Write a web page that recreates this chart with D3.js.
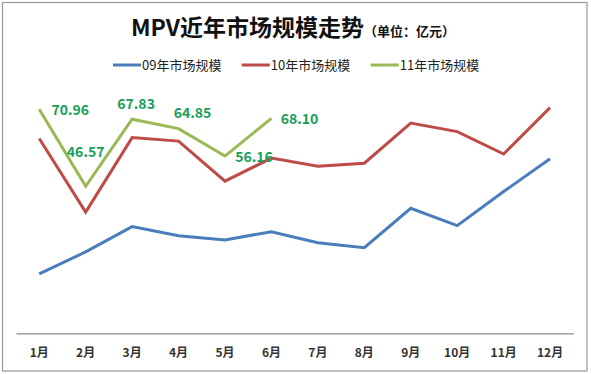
<!DOCTYPE html>
<html>
<head>
<meta charset="utf-8">
<script src="https://cdn.jsdelivr.net/npm/d3@7"></script>
<style>
  html, body { margin: 0; padding: 0; background: #fff; }
  svg { display: block; }
  text { font-family: "Noto Sans CJK SC", "Noto Sans", sans-serif; }
</style>
</head>
<body>
<script>
// ---- data ----
const months = ["1月","2月","3月","4月","5月","6月","7月","8月","9月","10月","11月","12月"];
const seriesNames = ["09年市场规模","10年市场规模","11年市场规模"];
const values09 = [18.8, 25.8, 33.8, 30.9, 29.6, 32.2, 28.7, 27.1, 39.6, 34.1, 44.9, 55.3];
const values10 = [61.7, 38.4, 62.0, 60.9, 48.2, 55.5, 52.9, 53.9, 66.6, 63.9, 56.8, 71.5];
const values11 = [70.96, 46.57, 67.83, 64.85, 56.16, 68.10];
const yDomain = [0, 80];

// ---- layout / style ----
const W = 591, H = 374;
const colors = ["#4A7EBB", "#BE4B48", "#98B954"];
const labelColor = "#17A05A";
const labelOffsets = [[31, 1], [0, -34], [4, -15], [14, -16], [29, 1], [28, 1]];

const svg = d3.select("body").append("svg").attr("width", W).attr("height", H);

// outer border
svg.append("rect").attr("x", 2.5).attr("y", 2.5).attr("width", 584.5).attr("height", 368.5)
  .attr("fill", "#fff").attr("stroke", "#9a9a9a").attr("stroke-width", 1.2);

// title
const title = svg.append("text").attr("x", 293).attr("y", 36).attr("text-anchor", "middle")
  .attr("font-weight", "bold").attr("fill", "#111");
title.append("tspan").attr("font-size", 23).text("MPV近年市场规模走势");
title.append("tspan").attr("font-size", 13).text("（单位：亿元）");

// scales
const x = d3.scaleBand().domain(months).range([16, 573.3]);
const cx = m => x(m) + x.bandwidth() / 2;
const y = d3.scaleLinear().domain(yDomain).range([333.3, 80.8]);

// x axis
const xAxis = svg.append("g").attr("transform", "translate(0,333.3)")
  .call(d3.axisBottom(x).tickSize(0).tickPadding(15));
xAxis.select(".domain").attr("stroke", "#8a8a8a").attr("stroke-width", 1.3);
xAxis.selectAll("text").attr("font-size", 12).attr("font-weight", "bold")
  .attr("fill", "#333").attr("font-family", "\"Noto Sans CJK SC\", sans-serif");

// lines
const line = d3.line().x((d, i) => cx(months[i])).y(d => y(d));
const allSeries = [values09, values10, values11];
allSeries.forEach((vals, k) => {
  svg.append("path").datum(vals).attr("d", line)
    .attr("fill", "none").attr("stroke", colors[k]).attr("stroke-width", 3)
    .attr("stroke-linejoin", "miter");
});

// data labels for 11年
svg.append("g").selectAll("text").data(values11).join("text")
  .attr("x", (d, i) => cx(months[i]) + labelOffsets[i][0])
  .attr("y", (d, i) => y(d) + labelOffsets[i][1])
  .attr("dy", "0.36em")
  .attr("text-anchor", "middle")
  .attr("font-size", 14).attr("font-weight", "bold")
  .attr("font-family", "\"Noto Sans\", sans-serif")
  .attr("fill", labelColor)
  .text(d => d.toFixed(2));

// legend
const legendX = [113, 241.7, 370.7];
const lg = svg.append("g").selectAll("g").data(seriesNames).join("g")
  .attr("transform", (d, i) => `translate(${legendX[i]},65)`);
lg.append("line").attr("x1", 0).attr("x2", 28).attr("y1", 0).attr("y2", 0)
  .attr("stroke", (d, i) => colors[i]).attr("stroke-width", 3);
lg.append("text").attr("x", 29).attr("y", 0).attr("dy", "0.36em")
  .attr("font-size", 13).attr("fill", "#222").text(d => d);
</script>
</body>
</html>
